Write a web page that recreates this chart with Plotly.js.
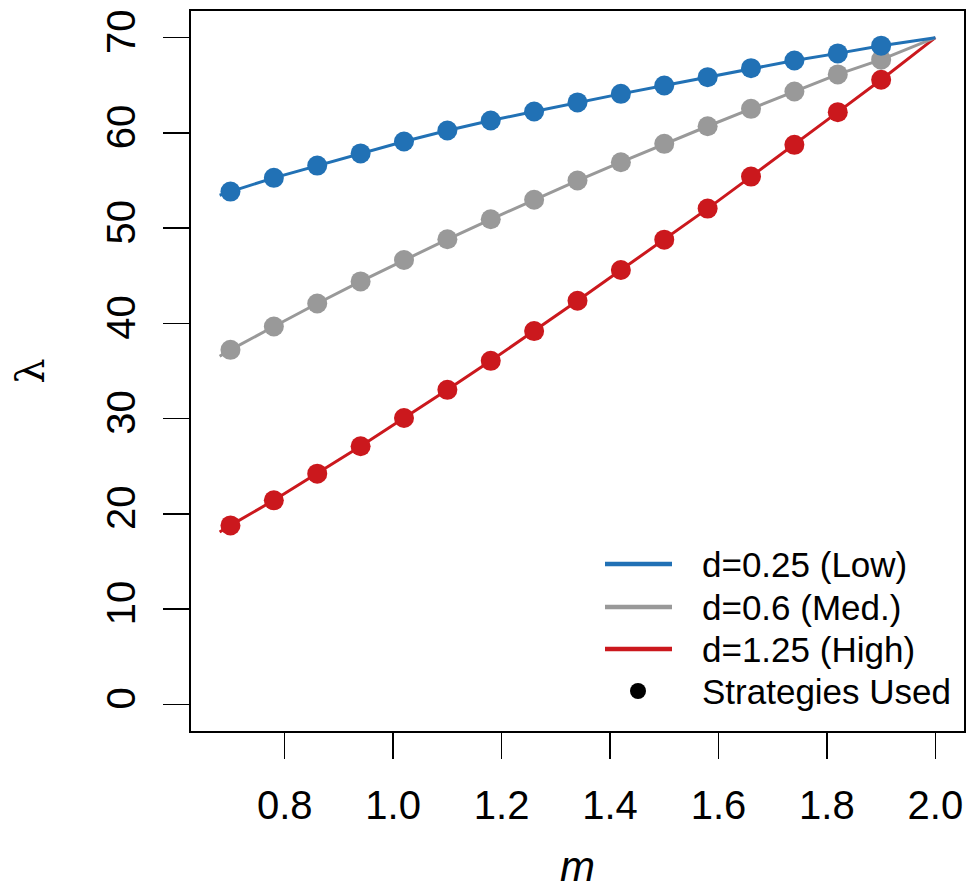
<!DOCTYPE html>
<html>
<head>
<meta charset="utf-8">
<script src="https://cdn.plot.ly/plotly-3.0.1.min.js"></script>
<style>html,body{margin:0;padding:0;background:#fff;}#chart{width:980px;height:894px;}</style>
</head>
<body>
<div id="chart"></div>
<script>
// ---- data ----
const lineM   = [0.68, 0.70, 0.78, 0.86, 0.94, 1.02, 1.10, 1.18, 1.26, 1.34, 1.42, 1.50, 1.58, 1.66, 1.74, 1.82, 1.90, 2.00];
const pointM  = [0.70, 0.78, 0.86, 0.94, 1.02, 1.10, 1.18, 1.26, 1.34, 1.42, 1.50, 1.58, 1.66, 1.74, 1.82, 1.90];

const lowPts  = [53.84, 55.28, 56.57, 57.85, 59.10, 60.25, 61.30, 62.25, 63.20, 64.10, 64.98, 65.85, 66.80, 67.60, 68.35, 69.16];
const medPts  = [37.22, 39.67, 42.09, 44.41, 46.66, 48.83, 50.93, 52.98, 55.00, 56.92, 58.85, 60.70, 62.53, 64.35, 66.14, 67.69];
const highPts = [18.79, 21.42, 24.22, 27.10, 30.07, 33.02, 36.07, 39.19, 42.38, 45.60, 48.79, 52.05, 55.41, 58.75, 62.18, 65.58];

const lowLine  = [53.45].concat(lowPts,  [70.0]);
const medLine  = [36.55].concat(medPts,  [70.0]);
const highLine = [18.10].concat(highPts, [70.0]);

const seriesNames  = ["d=0.25 (Low)", "d=0.6 (Med.)", "d=1.25 (High)"];
const pointsName   = "Strategies Used";
const seriesColors = ["#2171B5", "#999999", "#CB181D"];

const xTicks = [0.8, 1.0, 1.2, 1.4, 1.6, 1.8, 2.0];
const xTickText = ["0.8", "1.0", "1.2", "1.4", "1.6", "1.8", "2.0"];
const yTicks = [0, 10, 20, 30, 40, 50, 60, 70];

// ---- traces (drawn High, Med, Low so Low sits on top) ----
const FONT = "Liberation Sans, Arial, Helvetica, sans-serif";
const lineSets = [lowLine, medLine, highLine];
const ptSets = [lowPts, medPts, highPts];
const traces = [];
[2, 1, 0].forEach(i => {
  traces.push({x: lineM, y: lineSets[i], type: "scatter", mode: "lines", name: seriesNames[i],
    line: {color: seriesColors[i], width: 3}, showlegend: false, hoverinfo: "skip"});
  traces.push({x: pointM, y: ptSets[i], type: "scatter", mode: "markers", name: pointsName,
    marker: {color: seriesColors[i], size: 20, line: {width: 0}}, showlegend: false});
});

// ---- custom legend (R style) ----
const L = 191, R = 964, T = 11, B = 731;
const px = v => (v - L) / (R - L);
const py = v => (B - v) / (B - T);
const rowsY = [564, 607, 649, 691];
const shapes = [];
const annotations = [];
for (let i = 0; i < 3; i++) {
  shapes.push({type: "line", xref: "paper", yref: "paper", x0: px(605), x1: px(672), y0: py(rowsY[i]), y1: py(rowsY[i]),
    line: {color: seriesColors[i], width: 4.5}});
  annotations.push({xref: "paper", yref: "paper", x: px(700), y: py(rowsY[i]), xanchor: "left", yanchor: "middle",
    text: seriesNames[i], showarrow: false, font: {family: FONT, size: 35, color: "#000"}});
}
shapes.push({type: "circle", xref: "paper", yref: "paper", xsizemode: "pixel", ysizemode: "pixel",
  xanchor: px(638), yanchor: py(rowsY[3]), x0: -8, x1: 8, y0: -8, y1: 8,
  fillcolor: "#000", line: {width: 0}});
annotations.push({xref: "paper", yref: "paper", x: px(700), y: py(rowsY[3]), xanchor: "left", yanchor: "middle",
  text: pointsName, showarrow: false, font: {family: FONT, size: 35, color: "#000"}});

const layout = {
  width: 980, height: 894,
  margin: {l: L, r: 980 - R, t: T, b: 894 - B},
  paper_bgcolor: "#fff", plot_bgcolor: "#fff",
  font: {family: FONT, color: "#000"},
  showlegend: false,
  xaxis: {
    range: [0.6272, 2.0528], tickvals: xTicks, ticktext: xTickText,
    ticks: "outside", ticklen: 26, tickwidth: 1.5, tickcolor: "#000",
    showline: true, linecolor: "#000", linewidth: 2, mirror: true,
    showgrid: false, zeroline: false, automargin: false,
    tickfont: {family: FONT, size: 40, color: "#000"}, ticklabelstandoff: 12,
    title: {text: "<i>m</i>", font: {family: FONT, size: 42, color: "#000"}, standoff: 26}
  },
  yaxis: {
    range: [-2.8, 72.8], tickvals: yTicks,
    ticks: "outside", ticklen: 26, tickwidth: 1.5, tickcolor: "#000",
    showline: true, linecolor: "#000", linewidth: 2, mirror: true,
    showgrid: false, zeroline: false, automargin: false, tickangle: -90,
    tickfont: {family: FONT, size: 40, color: "#000"}, ticklabelstandoff: 12,
    title: {text: "λ", font: {family: "DejaVu Serif, serif", size: 40, color: "#000"}, standoff: 42}
  },
  shapes: shapes,
  annotations: annotations
};

Plotly.newPlot("chart", traces, layout, {displayModeBar: false, staticPlot: true});
</script>
</body>
</html>
